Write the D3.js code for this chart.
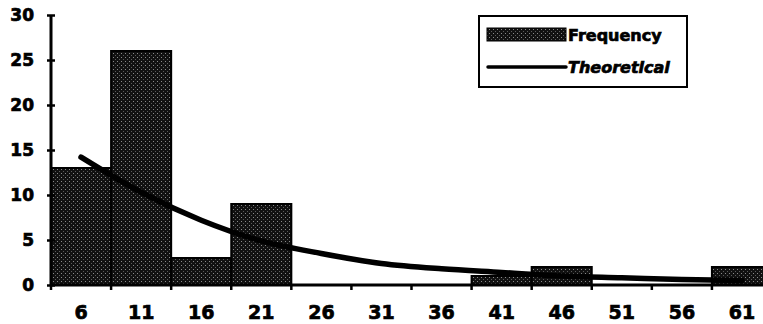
<!DOCTYPE html>
<html>
<head>
<meta charset="utf-8">
<script src="https://cdn.jsdelivr.net/npm/d3@7"></script>
<style>
  body { margin: 0; background: #fff; }
  svg { display: block; }
  .lbl { font-family: 'DejaVu Sans', sans-serif; font-weight: bold; fill: #000; stroke: #000; stroke-width: 0.7px; }
</style>
</head>
<body>
<div id="chart"></div>
<script>
// class midpoints
var categories = ['6', '11', '16', '21', '26', '31', '36', '41', '46', '51', '56', '61']
var frequency = [13, 26, 3, 9, 0, 0, 0, 1, 2, 0, 0, 2]
var theoretical = [14.2, 10.3, 7.2, 4.9, 3.5, 2.4, 1.8, 1.4, 1.0, 0.8, 0.6, 0.5]
var yTicks = [0, 5, 10, 15, 20, 25, 30]

var width = 763
var height = 324
var margin = {left: 51, top: 15, bottom: 39}

var svg = d3.select('#chart').append('svg')
  .attr('width', width)
  .attr('height', height)

var defs = svg.append('defs')
var pat = defs.append('pattern')
  .attr('id', 'stipple')
  .attr('patternUnits', 'userSpaceOnUse')
  .attr('width', 4)
  .attr('height', 4)
pat.append('rect').attr('width', 4).attr('height', 4).attr('fill', '#111')
pat.append('rect').attr('x', 1).attr('y', 1).attr('width', 1).attr('height', 1).attr('fill', '#8a8a8a')
pat.append('rect').attr('x', 3).attr('y', 3).attr('width', 1).attr('height', 1).attr('fill', '#5a5a5a')

// plot runs past the right edge of the picture, like the original crop
var x = d3.scaleBand()
  .domain(categories)
  .range([margin.left, 772])
  .padding(0)

var y = d3.scaleLinear()
  .domain([0, 30])
  .range([height - margin.bottom, margin.top])

// bars
svg.append('g').selectAll('rect')
  .data(frequency)
  .enter()
  .append('rect')
  .attr('x', function (d, i) { return x(categories[i]) })
  .attr('y', function (d) { return y(d) })
  .attr('width', x.bandwidth())
  .attr('height', function (d) { return y(0) - y(d) })
  .attr('fill', 'url(#stipple)')
  .attr('stroke', '#000')
  .attr('stroke-width', 2)

// x axis
var y0 = y(0)
svg.append('line')
  .attr('x1', margin.left).attr('x2', width)
  .attr('y1', y0).attr('y2', y0)
  .attr('stroke', '#000').attr('stroke-width', 3)

svg.append('g').selectAll('line')
  .data(categories)
  .enter()
  .append('line')
  .attr('x1', function (d) { return x(d) })
  .attr('x2', function (d) { return x(d) })
  .attr('y1', y0)
  .attr('y2', y0 + 5)
  .attr('stroke', '#000')
  .attr('stroke-width', 2.5)

var xAxis = d3.axisBottom(x).tickSize(0).tickPadding(0)
var xg = svg.append('g')
  .attr('transform', 'translate(0,' + y0 + ')')
  .call(xAxis)
xg.select('.domain').remove()
xg.selectAll('text')
  .attr('class', 'lbl')
  .attr('y', 34)
  .attr('dy', 0)
  .style('font-size', '19px')

// y axis
var yAxis = d3.axisLeft(y).tickValues(yTicks).tickSize(4).tickPadding(13)
var yg = svg.append('g')
  .attr('transform', 'translate(' + margin.left + ',0)')
  .call(yAxis)
yg.select('.domain').remove()
yg.selectAll('.tick line')
  .attr('x1', -4).attr('x2', 4)
  .attr('stroke', '#000').attr('stroke-width', 2.5)
yg.selectAll('text')
  .attr('class', 'lbl')
  .style('font-size', '17px')
svg.append('line')
  .attr('x1', margin.left).attr('x2', margin.left)
  .attr('y1', y(30)).attr('y2', y0)
  .attr('stroke', '#000').attr('stroke-width', 3)

// theoretical curve
var line = d3.line()
  .x(function (d, i) { return x(categories[i]) + x.bandwidth() / 2 })
  .y(function (d) { return y(d) })
  .curve(d3.curveMonotoneX)

svg.append('path')
  .datum(theoretical)
  .attr('d', line)
  .attr('fill', 'none')
  .attr('stroke', '#000')
  .attr('stroke-width', 5.5)
  .attr('stroke-linecap', 'round')

// legend
var legend = svg.append('g')
legend.append('rect')
  .attr('x', 479).attr('y', 16)
  .attr('width', 208).attr('height', 71)
  .attr('fill', '#fff')
  .attr('stroke', '#000')
  .attr('stroke-width', 2)
legend.append('rect')
  .attr('x', 487).attr('y', 28)
  .attr('width', 79).attr('height', 13)
  .attr('fill', 'url(#stipple)')
  .attr('stroke', '#000')
  .attr('stroke-width', 1)
legend.append('text')
  .attr('class', 'lbl')
  .attr('x', 568).attr('y', 41)
  .style('font-size', '16px')
  .text('Frequency')
legend.append('line')
  .attr('x1', 488).attr('x2', 566)
  .attr('y1', 67).attr('y2', 67)
  .attr('stroke', '#000')
  .attr('stroke-width', 3.5)
  .attr('stroke-linecap', 'round')
legend.append('text')
  .attr('class', 'lbl')
  .attr('x', 568).attr('y', 73)
  .style('font-size', '16px')
  .style('font-style', 'italic')
  .text('Theoretical')
</script>
</body>
</html>
